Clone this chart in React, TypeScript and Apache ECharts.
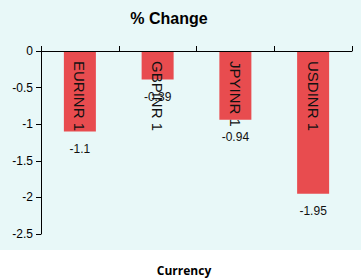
import React, { useEffect, useRef } from "react";
import * as echarts from "echarts";

const categories = ["EURINR 1", "GBPINR 1", "JPYINR 1", "USDINR 1"];
const values = [-1.1, -0.39, -0.94, -1.95];
const yMin = -2.5;
const yMax = 0;
const yStep = 0.5;
const titleText = "% Change";
const xAxisTitle = "Currency";

export default function App() {
  const ref = useRef<HTMLDivElement>(null);
  useEffect(() => {
    if (!ref.current) return;
    const chart = echarts.init(ref.current, undefined, { renderer: "svg" });
    chart.setOption({
      animation: false,
      backgroundColor: "#ffffff",
      graphic: [
        {
          type: "rect",
          z: -10,
          silent: true,
          shape: { x: 0, y: 0, width: 361, height: 250 },
          style: { fill: "#e8f8f8" },
        },
        {
          type: "text",
          x: 169,
          y: 18,
          style: {
            text: titleText,
            font: "bold 16px 'Liberation Sans', Arial, sans-serif",
            fill: "#000",
            align: "center",
            verticalAlign: "middle",
          },
        },
        {
          type: "text",
          x: 184,
          y: 270,
          style: {
            text: xAxisTitle,
            font: "bold 12px 'Open Sans', sans-serif",
            fill: "#000",
            align: "center",
            verticalAlign: "middle",
          },
        },
      ],
      grid: { left: 41, right: 9, top: 51, bottom: 46, containLabel: false },
      xAxis: {
        type: "category",
        position: "top",
        data: categories,
        axisLine: { show: true, lineStyle: { color: "#000", width: 1 } },
        axisTick: { show: true, length: 5, lineStyle: { color: "#000" } },
        axisLabel: {
          show: true,
          inside: true,
          rotate: -90,
          margin: 10,
          align: "left",
          verticalAlign: "middle",
          fontSize: 15,
          color: "#111",
          fontFamily: "'Liberation Sans', Arial, sans-serif",
        },
        splitLine: { show: false },
        z: 10,
      },
      yAxis: {
        type: "value",
        min: yMin,
        max: yMax,
        interval: yStep,
        axisLine: { show: true, lineStyle: { color: "#000", width: 1 } },
        axisTick: { show: true, length: 5, lineStyle: { color: "#000" } },
        axisLabel: {
          fontSize: 12,
          color: "#000",
          margin: 8,
          fontFamily: "'Liberation Sans', Arial, sans-serif",
        },
        splitLine: { show: false },
      },
      series: [
        {
          type: "bar",
          data: values,
          barWidth: 32,
          itemStyle: { color: "#e84c4f" },
          label: {
            show: true,
            position: "bottom",
            distance: 11,
            fontSize: 12,
            color: "#111",
            fontFamily: "'Liberation Sans', Arial, sans-serif",
          },
        },
      ],
    });
    return () => chart.dispose();
  }, []);
  return (
    <div
      ref={ref}
      style={{ position: "absolute", left: 0, top: 0, width: 361, height: 280 }}
    />
  );
}
